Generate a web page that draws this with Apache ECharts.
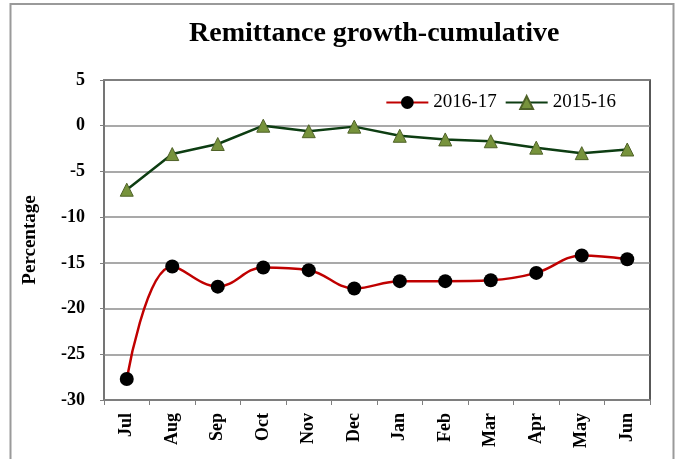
<!DOCTYPE html>
<html>
<head>
<meta charset="utf-8">
<script src="https://cdn.jsdelivr.net/npm/echarts@6/dist/echarts.min.js"></script>
<style>
  html, body { margin: 0; padding: 0; background: #fff; }
  #main { width: 676px; height: 459px; }
</style>
</head>
<body>
<div id="main"></div>
<script>
    var months = ['Jul', 'Aug', 'Sep', 'Oct', 'Nov', 'Dec', 'Jan', 'Feb', 'Mar', 'Apr', 'May', 'Jun'];
    var growth1617 = [-27.7, -15.4, -17.6, -15.5, -15.8, -17.8, -17.0, -17.0, -16.9, -16.1, -14.2, -14.6];
    var growth1516 = [-7.0, -3.1, -2.0, 0.0, -0.6, -0.1, -1.1, -1.5, -1.7, -2.4, -3.0, -2.6];

    var font = '"Liberation Serif", "Times New Roman", serif';
    var myChart = echarts.init(document.getElementById('main'));
    var option = {
        backgroundColor: '#fff',
        animation: false,
        textStyle: { fontFamily: font },
        graphic: [{
            type: 'polyline',
            shape: { points: [[10.5, 470], [10.5, 4], [673.5, 4], [673.5, 470]] },
            style: { stroke: '#9a9a9a', lineWidth: 2, fill: null },
            silent: true
        }],
        title: {
            text: 'Remittance growth-cumulative',
            left: 184,
            top: 15,
            textStyle: {
                fontFamily: font,
                fontSize: 28,
                fontWeight: 'bold',
                color: '#000'
            }
        },
        legend: {
            right: 55,
            top: 88,
            itemWidth: 42,
            itemHeight: 16,
            itemGap: 8,
            textStyle: { fontFamily: font, fontSize: 19, color: '#000' },
            data: ['2016-17', '2015-16']
        },
        grid: {
            left: 104,
            right: 26,
            top: 80,
            bottom: 59,
            show: true,
            borderColor: '#222',
            borderWidth: 1.5
        },
        xAxis: {
            type: 'category',
            data: months,
            boundaryGap: true,
            axisLine: { onZero: false, lineStyle: { color: '#7f7f7f', width: 1.5 } },
            axisTick: { show: true, length: 5, lineStyle: { color: '#7f7f7f' } },
            axisLabel: {
                rotate: 90,
                margin: 13,
                fontFamily: font,
                fontSize: 18,
                fontWeight: 'bold',
                color: '#000'
            }
        },
        yAxis: {
            type: 'value',
            min: -30,
            max: 5,
            interval: 5,
            name: 'Percentage',
            nameLocation: 'middle',
            nameGap: 64,
            nameRotate: 90,
            nameTextStyle: { fontFamily: font, fontSize: 19, fontWeight: 'bold', color: '#000' },
            axisLine: { show: true, lineStyle: { color: '#7f7f7f', width: 1.5 } },
            axisTick: { show: true, length: 4, lineStyle: { color: '#7f7f7f' } },
            axisLabel: {
                margin: 19,
                fontFamily: font,
                fontSize: 18,
                fontWeight: 'bold',
                color: '#000'
            },
            splitLine: { show: true, lineStyle: { color: '#8c8c8c', width: 1.5 } }
        },
        series: [{
            name: '2016-17',
            type: 'line',
            data: growth1617,
            smooth: 0.4,
            symbol: 'circle',
            symbolSize: 14,
            itemStyle: { color: '#000' },
            lineStyle: { color: '#c00000', width: 2.5 },
            z: 3
        }, {
            name: '2015-16',
            type: 'line',
            data: growth1516,
            symbol: 'triangle',
            symbolSize: 13,
            itemStyle: { color: '#77933c', borderColor: '#4f6228', borderWidth: 1 },
            lineStyle: { color: '#0d3d12', width: 2.5 },
            z: 2
        }]
    };
    myChart.setOption(option);
</script>
</body>
</html>
